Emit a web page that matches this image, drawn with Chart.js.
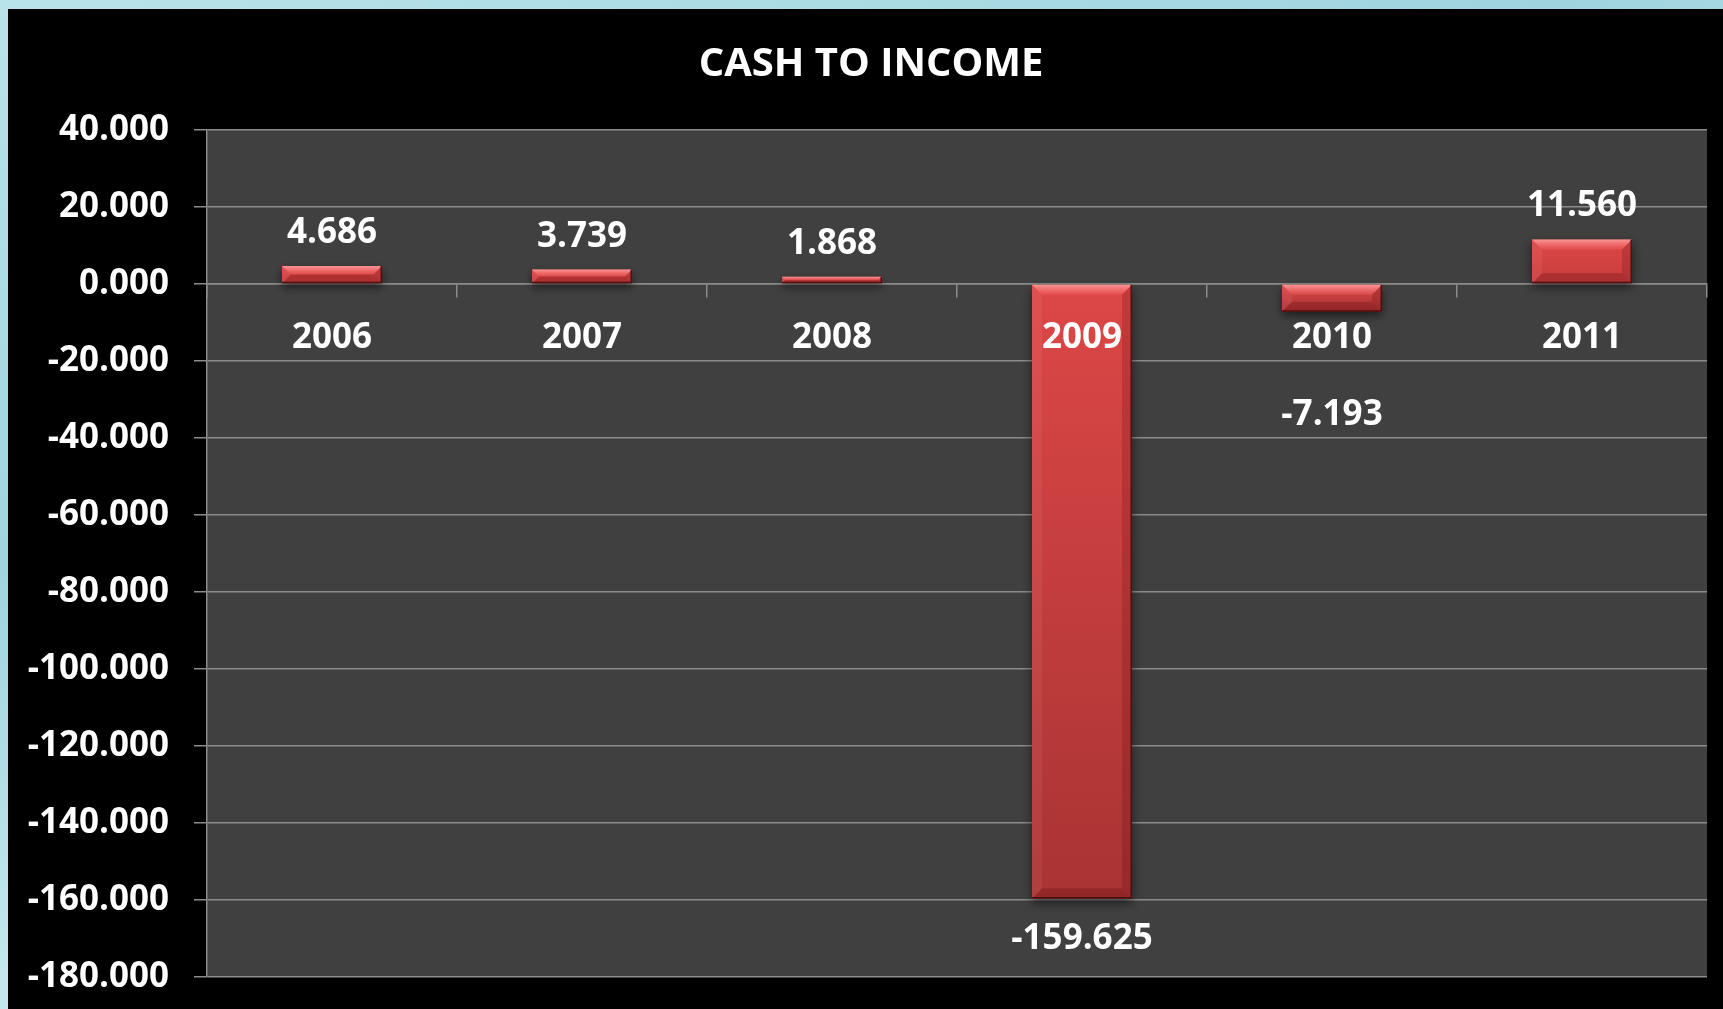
<!DOCTYPE html>
<html>
<head>
<meta charset="utf-8">
<title>Cash to Income</title>
<script src="https://cdn.jsdelivr.net/npm/chart.js@4/dist/chart.umd.min.js"></script>
<style>
  html, body {
    margin: 0;
    padding: 0;
    width: 1723px;
    height: 1009px;
    overflow: hidden;
    background: linear-gradient(160deg, #b9e3ea 0%, #9fd4de 35%, #c4e8ee 60%, #a6d8e1 100%);
  }
  #frame {
    position: absolute;
    left: 8px;
    top: 9px;
    width: 1715px;
    height: 1000px;
    background: #000;
  }
  canvas { display: block; }
</style>
</head>
<body>
<div id="frame"><canvas id="chart" width="1715" height="1000"></canvas></div>
<script>
// Chart heading
const chartTitle = 'CASH TO INCOME';
// Years on the category axis
const years = ['2006', '2007', '2008', '2009', '2010', '2011'];
// Cash to income ratio per year
const cashToIncome = [4.686, 3.739, 1.868, -159.625, -7.193, 11.560];
// Value axis range and step
const yMin = -180;
const yMax = 40;
const yStep = 20;

const FONT = '"Open Sans", "DejaVu Sans", sans-serif';
const GRID = '#8c8c8c';

// Dark grey plotting area behind the bars, and the heading above it
const plotBackground = {
  id: 'plotBackground',
  beforeDraw(chart) {
    const { ctx, chartArea: a } = chart;
    ctx.save();
    ctx.fillStyle = '#404040';
    ctx.fillRect(a.left, a.top, a.right - a.left, a.bottom - a.top);
    ctx.fillStyle = '#ffffff';
    ctx.font = 'bold 40px ' + FONT;
    ctx.textAlign = 'center';
    ctx.textBaseline = 'middle';
    ctx.fillText(chartTitle, 863, 56);
    ctx.restore();
  }
};

// Soft shadow under the bars, bevelled edges, and value labels
const barDecor = {
  id: 'barDecor',
  beforeDatasetsDraw(chart) {
    const c = chart.ctx;
    c.save();
    c.shadowColor = 'rgba(0,0,0,0.55)';
    c.shadowBlur = 10;
    c.shadowOffsetY = 4;
  },
  afterDatasetsDraw(chart) {
    const c = chart.ctx;
    c.restore();
    const meta = chart.getDatasetMeta(0);
    const values = chart.data.datasets[0].data;
    const zero = chart.scales.y.getPixelForValue(0);
    meta.data.forEach((bar, i) => {
      const { x, y, base, width } = bar.getProps(['x', 'y', 'base', 'width'], true);
      const l = x - width / 2, r = x + width / 2;
      const t = Math.min(y, base), b = Math.max(y, base);
      const d = Math.min(10, (b - t) / 2);
      c.save();
      // top bevel
      const tg = c.createLinearGradient(0, t, 0, t + d);
      tg.addColorStop(0, 'rgba(255,165,165,0.85)');
      tg.addColorStop(1, 'rgba(255,110,110,0.25)');
      c.fillStyle = tg;
      c.beginPath();
      c.moveTo(l, t); c.lineTo(r, t); c.lineTo(r - d, t + d); c.lineTo(l + d, t + d);
      c.closePath(); c.fill();
      // bottom bevel
      c.fillStyle = 'rgba(80,5,5,0.25)';
      c.beginPath();
      c.moveTo(l, b); c.lineTo(r, b); c.lineTo(r - d, b - d); c.lineTo(l + d, b - d);
      c.closePath(); c.fill();
      // left bevel
      c.fillStyle = 'rgba(255,200,200,0.08)';
      c.beginPath();
      c.moveTo(l, t); c.lineTo(l + d, t + d); c.lineTo(l + d, b - d); c.lineTo(l, b);
      c.closePath(); c.fill();
      // right bevel
      c.fillStyle = 'rgba(70,0,0,0.18)';
      c.beginPath();
      c.moveTo(r, t); c.lineTo(r - d, t + d); c.lineTo(r - d, b - d); c.lineTo(r, b);
      c.closePath(); c.fill();
      // dark edge on right and bottom
      c.strokeStyle = 'rgba(70,12,12,0.9)';
      c.lineWidth = 1.5;
      c.beginPath();
      c.moveTo(r - 0.75, t); c.lineTo(r - 0.75, b - 0.75); c.lineTo(l, b - 0.75);
      c.stroke();
      c.restore();

      // value label
      const v = values[i];
      c.save();
      c.fillStyle = '#ffffff';
      c.font = 'bold 35px ' + FONT;
      c.textAlign = 'center';
      c.textBaseline = 'middle';
      let ly;
      if (v >= 0) {
        ly = y - 33;
      } else {
        ly = Math.max(y, zero + 91) + 40;
      }
      c.fillText(v.toFixed(3), x, ly);
      c.restore();
    });
  }
};

function barFill(context) {
  const chart = context.chart;
  const ys = chart.scales.y;
  if (!ys || context.raw === undefined) return '#d04242';
  const v = context.raw;
  const p0 = ys.getPixelForValue(0);
  const p1 = ys.getPixelForValue(v);
  const top = Math.min(p0, p1), bottom = Math.max(p0, p1);
  if (!isFinite(top) || bottom - top < 1) return '#d04242';
  const g = chart.ctx.createLinearGradient(0, top, 0, bottom);
  g.addColorStop(0, '#dd4747');
  g.addColorStop(1, v < 0 ? '#a93333' : '#c83d3d');
  return g;
}

function draw() {
  new Chart(document.getElementById('chart'), {
    type: 'bar',
    data: {
      labels: years,
      datasets: [{
        data: cashToIncome,
        backgroundColor: barFill,
        borderWidth: 0,
        categoryPercentage: 1,
        barPercentage: 0.4
      }]
    },
    options: {
      responsive: false,
      devicePixelRatio: 1,
      animation: false,
      events: [],
      layout: { padding: { top: 121, left: 0, right: 16, bottom: 32 } },
      plugins: {
        legend: { display: false },
        tooltip: { enabled: false },
        title: { display: false }
      },
      scales: {
        x: {
          position: { y: 0 },
          afterFit(scale) { scale.height = 0; },
          grid: {
            display: true,
            drawOnChartArea: false,
            drawTicks: true,
            tickLength: 13,
            color: GRID,
            lineWidth: 1.5,
            offset: true
          },
          border: { display: true, color: GRID, width: 1.5 },
          ticks: {
            z: 1,
            color: '#ffffff',
            font: { family: FONT, weight: 'bold', size: 35, lineHeight: 1.2 },
            padding: 20,
            maxRotation: 0,
            autoSkip: false
          }
        },
        y: {
          min: yMin,
          max: yMax,
          afterFit(scale) {
            scale.width = 199;
            scale.paddingTop = 0;
            scale.paddingBottom = 0;
          },
          grid: {
            color: GRID,
            lineWidth: 1.5,
            drawTicks: true,
            tickLength: 13
          },
          border: { display: true, color: GRID, width: 1.5 },
          ticks: {
            stepSize: yStep,
            color: '#ffffff',
            font: { family: FONT, weight: 'bold', size: 35, lineHeight: 1.2 },
            padding: 25,
            callback: (v) => Number(v).toFixed(3)
          }
        }
      }
    },
    plugins: [plotBackground, barDecor]
  });
}

if (document.fonts && document.fonts.load) {
  Promise.all([
    document.fonts.load('bold 35px "Open Sans"'),
    document.fonts.load('bold 40px "Open Sans"')
  ]).then(draw, draw);
} else {
  draw();
}
</script>
</body>
</html>
